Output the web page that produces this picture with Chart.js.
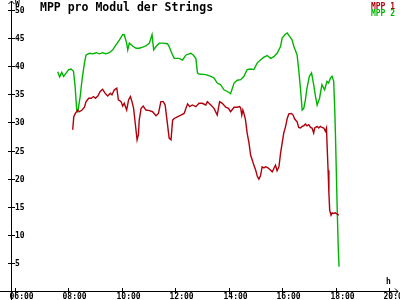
<!DOCTYPE html>
<html>
<head>
<meta charset="utf-8">
<script src="https://cdn.jsdelivr.net/npm/chart.js@4/dist/chart.umd.min.js"></script>
<style>
    body { margin: 0; background: #fff; }
    canvas { display: block; }
</style>
</head>
<body>
<canvas id="mpp-chart" width="400" height="300"></canvas>
<script>
// time of day in decimal hours, power in W
let mpp1Times = [8.16, 8.20, 8.26, 8.35, 8.41, 8.51, 8.60, 8.66, 8.76, 8.85, 8.94, 9.01, 9.10, 9.19, 9.28, 9.37, 9.47, 9.57, 9.63, 9.72, 9.81, 9.87, 9.97, 10.03, 10.09, 10.18, 10.25, 10.32, 10.38, 10.44, 10.50, 10.57, 10.62, 10.65, 10.72, 10.80, 10.90, 11.03, 11.15, 11.28, 11.37, 11.46, 11.55, 11.62, 11.69, 11.77, 11.84, 11.90, 11.96, 12.08, 12.21, 12.33, 12.46, 12.54, 12.64, 12.77, 12.89, 13.01, 13.14, 13.20, 13.33, 13.45, 13.57, 13.66, 13.76, 13.89, 13.99, 14.07, 14.20, 14.32, 14.41, 14.45, 14.49, 14.53, 14.57, 14.63, 14.69, 14.76, 14.82, 14.88, 14.94, 15.01, 15.07, 15.13, 15.19, 15.25, 15.32, 15.38, 15.44, 15.50, 15.57, 15.63, 15.69, 15.75, 15.81, 15.88, 15.94, 16.00, 16.06, 16.13, 16.19, 16.25, 16.35, 16.41, 16.47, 16.56, 16.62, 16.69, 16.75, 16.81, 16.87, 16.93, 17.00, 17.06, 17.12, 17.18, 17.22, 17.31, 17.37, 17.43, 17.49, 17.56, 17.62, 17.66, 17.68, 17.72, 17.75, 17.78, 17.83, 17.87, 17.93, 17.99, 18.05, 18.12]
let mpp1Values = [28.7, 31.0, 31.6, 32.2, 31.9, 32.2, 32.7, 33.7, 34.3, 34.3, 34.6, 34.3, 34.7, 35.5, 35.9, 35.2, 34.7, 35.2, 34.9, 35.8, 36.1, 34.0, 33.7, 32.9, 33.4, 32.2, 34.0, 34.6, 33.7, 32.5, 29.9, 26.9, 27.8, 30.4, 32.5, 32.9, 32.2, 32.1, 31.9, 31.2, 31.6, 33.7, 33.7, 33.1, 30.4, 27.2, 26.9, 30.4, 30.7, 31.0, 31.3, 31.6, 33.3, 32.8, 33.1, 32.8, 33.4, 33.4, 33.1, 33.7, 33.1, 32.5, 31.3, 33.7, 33.4, 32.7, 32.5, 31.9, 32.7, 32.7, 32.8, 32.5, 31.3, 32.2, 31.6, 30.4, 28.1, 26.3, 24.2, 23.3, 22.4, 21.5, 20.4, 19.9, 20.5, 22.1, 21.9, 22.1, 22.0, 21.8, 21.5, 21.2, 21.8, 22.4, 21.4, 22.1, 24.5, 26.3, 28.1, 29.3, 30.7, 31.5, 31.6, 31.3, 30.6, 30.1, 29.1, 29.0, 29.3, 29.4, 29.7, 29.4, 29.6, 29.1, 29.0, 28.1, 29.0, 29.3, 29.0, 29.3, 29.1, 29.0, 28.4, 29.0, 26.3, 21.5, 17.4, 14.4, 13.5, 13.9, 13.8, 13.9, 13.7, 13.5]

let mpp2Times = [7.60, 7.67, 7.75, 7.82, 7.92, 8.01, 8.10, 8.19, 8.25, 8.31, 8.35, 8.44, 8.51, 8.60, 8.66, 8.79, 8.91, 9.04, 9.16, 9.28, 9.41, 9.53, 9.66, 9.78, 9.91, 10.03, 10.09, 10.18, 10.22, 10.28, 10.40, 10.53, 10.65, 10.78, 10.90, 11.03, 11.13, 11.19, 11.28, 11.40, 11.52, 11.71, 11.77, 11.87, 11.96, 12.15, 12.27, 12.40, 12.58, 12.67, 12.77, 12.83, 12.89, 13.14, 13.33, 13.45, 13.57, 13.70, 13.82, 13.95, 14.07, 14.20, 14.32, 14.45, 14.57, 14.69, 14.82, 14.94, 15.07, 15.19, 15.32, 15.44, 15.57, 15.69, 15.81, 15.94, 16.00, 16.10, 16.19, 16.28, 16.37, 16.44, 16.56, 16.62, 16.69, 16.75, 16.81, 16.87, 16.93, 17.02, 17.10, 17.18, 17.25, 17.31, 17.40, 17.49, 17.59, 17.68, 17.74, 17.81, 17.87, 17.93, 17.97, 18.00, 18.06, 18.10, 18.13]
let mpp2Values = [39.0, 38.1, 38.9, 38.2, 38.8, 39.4, 39.5, 39.1, 36.4, 32.2, 31.9, 34.6, 37.6, 40.6, 42.0, 42.3, 42.2, 42.4, 42.2, 42.4, 42.2, 42.4, 42.9, 43.8, 44.7, 45.6, 45.6, 44.1, 42.9, 44.1, 43.6, 43.2, 43.2, 43.4, 43.6, 44.1, 45.6, 42.9, 43.5, 44.1, 44.1, 44.0, 43.5, 42.3, 41.4, 41.4, 41.1, 42.0, 42.3, 42.0, 41.4, 38.8, 38.6, 38.5, 38.2, 37.9, 37.0, 36.7, 35.8, 35.5, 35.1, 37.0, 37.5, 37.6, 38.2, 39.4, 39.5, 39.4, 40.6, 41.1, 41.6, 41.9, 41.4, 41.7, 42.3, 43.5, 45.0, 45.6, 45.9, 45.3, 44.7, 43.5, 42.0, 39.4, 35.8, 32.2, 32.5, 34.0, 36.1, 38.2, 38.8, 36.7, 34.6, 33.1, 34.3, 36.7, 35.8, 37.3, 37.0, 37.9, 38.2, 37.3, 32.2, 26.9, 14.8, 7.8, 4.3]

let xTicks = [6, 8, 10, 12, 14, 16, 18, 20]
let xTickLabels = ['06:00', '08:00', '10:00', '12:00', '14:00', '16:00', '18:00', '20:00']
let yTicks = [5, 10, 15, 20, 25, 30, 35, 40, 45, 50]

let seriesNames = ['MPP 1', 'MPP 2']
let seriesColors = ['#b0000c', '#00b400']

let tickFont = 'bold 8px "DejaVu Sans Mono"'

function toPoints(times, values) {
    return times.map((t, i) => ({ x: t, y: values[i] }))
}

// old style axes: arrows, crossing ticks, labels inside
let oldAxes = {
    id: 'oldAxes',
    afterDraw(chart) {
        let ctx = chart.ctx
        let xs = chart.scales.x
        let ys = chart.scales.y
        let axisX = xs.left - 4
        let axisY = Math.round(ys.getPixelForValue(0))

        ctx.save()
        ctx.strokeStyle = '#000'
        ctx.fillStyle = '#000'
        ctx.lineWidth = 1

        // y axis with arrow
        ctx.beginPath()
        ctx.moveTo(axisX + 0.5, 300)
        ctx.lineTo(axisX + 0.5, 1)
        ctx.moveTo(axisX - 2.5, 4)
        ctx.lineTo(axisX + 0.5, 1)
        ctx.lineTo(axisX + 3.5, 4)
        // x axis with arrow
        ctx.moveTo(0, axisY + 0.5)
        ctx.lineTo(398, axisY + 0.5)
        ctx.moveTo(395, axisY - 2.5)
        ctx.lineTo(398, axisY + 0.5)
        ctx.lineTo(395, axisY + 3.5)
        ctx.stroke()

        ctx.font = tickFont
        ctx.textBaseline = 'middle'
        ctx.textAlign = 'left'
        ctx.beginPath()
        for(let v of yTicks) {
            let py = Math.round(ys.getPixelForValue(v)) + 0.5
            ctx.moveTo(axisX - 3, py)
            ctx.lineTo(axisX + 4, py)
            ctx.fillText(String(v), axisX + 4, py)
        }
        ctx.textBaseline = 'top'
        xTicks.forEach((v, i) => {
            let px = Math.round(xs.getPixelForValue(v)) + 0.5
            ctx.moveTo(px, axisY - 3)
            ctx.lineTo(px, axisY + 3)
            ctx.fillText(xTickLabels[i], px - 6, axisY + 2)
        })
        ctx.stroke()

        // unit labels
        ctx.fillText('W', axisX + 4, 0)
        ctx.fillText('h', 386, axisY - 13)

        // title
        ctx.font = 'bold 11.5px "DejaVu Sans Mono"'
        ctx.fillText('MPP pro Modul der Strings', 40, 2)

        // legend, right aligned text only
        ctx.font = tickFont
        ctx.textAlign = 'right'
        seriesNames.forEach((name, i) => {
            ctx.fillStyle = seriesColors[i]
            ctx.fillText(name, 395, 3 + i * 7)
        })
        ctx.restore()
    }
}

new Chart(document.getElementById('mpp-chart'), {
    type: 'line',
    data: {
        datasets: [
            {
                label: seriesNames[0],
                data: toPoints(mpp1Times, mpp1Values),
                borderColor: seriesColors[0],
                borderWidth: 1.4,
                pointRadius: 0,
                tension: 0
            },
            {
                label: seriesNames[1],
                data: toPoints(mpp2Times, mpp2Values),
                borderColor: seriesColors[1],
                borderWidth: 1.4,
                pointRadius: 0,
                tension: 0
            }
        ]
    },
    options: {
        responsive: false,
        animation: false,
        layout: { padding: { left: 15, right: 11, top: 10, bottom: 9 } },
        plugins: {
            legend: { display: false },
            title: { display: false },
            tooltip: { enabled: false }
        },
        scales: {
            x: { type: 'linear', min: 6, max: 20, display: false },
            y: { min: 0, max: 50, display: false }
        }
    },
    plugins: [oldAxes]
})
</script>
</body>
</html>
